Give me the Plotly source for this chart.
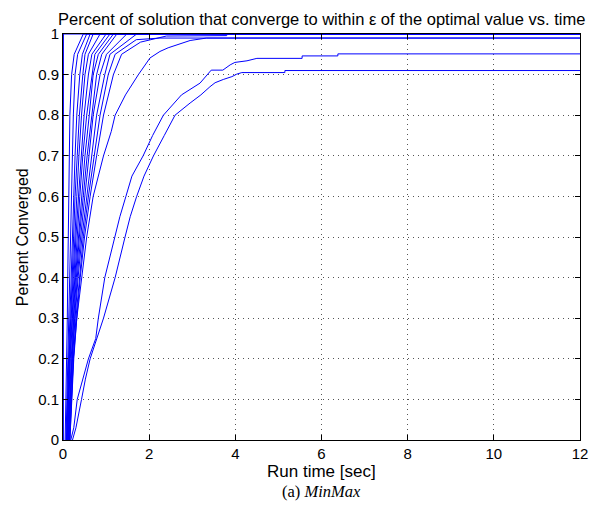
import plotly.graph_objects as go

# Percent levels at which the fast curves' times were read
p_levels = [0.0, 0.1, 0.2, 0.3, 0.4, 0.5, 0.6, 0.7, 0.8, 0.9, 0.95, 1.0]

# Run time [sec] at which each fast solution curve reaches p_levels
fast_times = [
    [0.01, 0.01, 0.01, 0.01, 0.01, 0.01, 0.01, 0.01, 0.01, 0.01, 0.01, 0.01],
    [0.05, 0.07, 0.09, 0.10, 0.11, 0.12, 0.13, 0.14, 0.16, 0.20, 0.26, 0.47],
    [0.07, 0.09, 0.11, 0.13, 0.15, 0.17, 0.20, 0.22, 0.24, 0.28, 0.34, 0.55],
    [0.08, 0.10, 0.13, 0.16, 0.19, 0.22, 0.24, 0.28, 0.32, 0.39, 0.45, 0.63],
    [0.09, 0.11, 0.14, 0.18, 0.21, 0.25, 0.28, 0.33, 0.38, 0.46, 0.51, 0.70],
    [0.10, 0.12, 0.15, 0.19, 0.23, 0.27, 0.32, 0.37, 0.43, 0.51, 0.59, 0.86],
    [0.10, 0.13, 0.16, 0.21, 0.25, 0.30, 0.36, 0.42, 0.49, 0.59, 0.67, 1.00],
    [0.11, 0.14, 0.17, 0.22, 0.27, 0.33, 0.39, 0.46, 0.55, 0.67, 0.74, 1.09],
    [0.12, 0.15, 0.19, 0.24, 0.29, 0.36, 0.43, 0.51, 0.61, 0.70, 0.82, 1.17],
    [0.12, 0.16, 0.20, 0.25, 0.31, 0.38, 0.47, 0.56, 0.67, 0.78, 0.90, 1.25],
    [0.13, 0.17, 0.21, 0.27, 0.33, 0.41, 0.51, 0.60, 0.70, 0.86, 1.01, 1.48],
    [0.14, 0.18, 0.22, 0.28, 0.35, 0.44, 0.55, 0.66, 0.78, 0.97, 1.09, 1.71],
]

# Curves with individual (time, percent) readings
curve_f12_t = [0.15, 0.19, 0.24, 0.30, 0.38, 0.47, 0.59, 0.72, 0.86, 1.05, 1.21, 1.70, 2.25, 12.0]
curve_f12_p = [0.00, 0.10, 0.20, 0.30, 0.40, 0.50, 0.60, 0.70, 0.80, 0.90, 0.95, 0.986, 0.99, 0.99]

curve_f13_t = [0.16, 0.20, 0.25, 0.32, 0.40, 0.50, 0.63, 0.78, 0.94, 1.17, 1.36, 1.80, 2.40, 3.80, 3.80, 12.0]
curve_f13_p = [0.00, 0.10, 0.20, 0.30, 0.40, 0.50, 0.60, 0.70, 0.80, 0.90, 0.95, 0.98, 0.995, 0.996, 1.0, 1.0]

curve_c_t = [0.16, 0.20, 0.24, 0.32, 0.43, 0.55, 0.70, 0.94, 1.12, 1.21, 1.45, 1.75, 2.02, 2.25, 2.44, 2.75, 2.95, 3.33, 12.0]
curve_c_p = [0.00, 0.10, 0.20, 0.30, 0.40, 0.50, 0.60, 0.70, 0.76, 0.80, 0.85, 0.90, 0.941, 0.957, 0.966, 0.978, 0.984, 0.99, 0.99]

curve_a_t = [0.18, 0.25, 0.33, 0.46, 0.59, 0.76, 0.82, 0.97, 1.21, 1.32, 1.46, 1.60, 1.86, 2.08, 2.33, 2.75, 3.18, 3.44,
             3.71, 3.88, 3.99, 4.27, 4.50, 5.55, 5.55, 6.38, 6.38, 12.0]
curve_a_p = [0.00, 0.03, 0.10, 0.15, 0.20, 0.25, 0.30, 0.40, 0.50, 0.55, 0.60, 0.65, 0.70, 0.75, 0.80, 0.85, 0.879, 0.911,
             0.911, 0.924, 0.930, 0.934, 0.940, 0.940, 0.946, 0.946, 0.951, 0.951]

curve_b_t = [0.22, 0.30, 0.43, 0.52, 0.63, 0.78, 0.94, 1.21, 1.32, 1.44, 1.56, 1.71, 1.88, 2.10, 2.35, 2.60, 2.95, 3.20,
             3.41, 3.53, 3.72, 3.92, 4.03, 4.15, 5.15, 5.15, 12.0]
curve_b_p = [0.00, 0.03, 0.10, 0.15, 0.20, 0.25, 0.30, 0.40, 0.45, 0.50, 0.55, 0.60, 0.65, 0.70, 0.75, 0.80, 0.83, 0.85,
             0.870, 0.880, 0.888, 0.895, 0.901, 0.905, 0.905, 0.910, 0.910]

x_ticks = [0, 2, 4, 6, 8, 10, 12]
y_ticks = [0, 0.1, 0.2, 0.3, 0.4, 0.5, 0.6, 0.7, 0.8, 0.9, 1]

BLUE = "#0000ff"
line = dict(color=BLUE, width=1)
SANS = "Liberation Sans, Arial, sans-serif"

fig = go.Figure()
for ts in fast_times:
    fig.add_trace(go.Scatter(x=ts + [12.0], y=p_levels + [p_levels[-1]], mode="lines", line=line,
                             showlegend=False, hoverinfo="skip"))
for xs, ys in [(curve_f12_t, curve_f12_p), (curve_f13_t, curve_f13_p), (curve_c_t, curve_c_p),
               (curve_a_t, curve_a_p), (curve_b_t, curve_b_p)]:
    fig.add_trace(go.Scatter(x=xs, y=ys, mode="lines", line=line, showlegend=False, hoverinfo="skip"))

axis_common = dict(
    showline=True, linecolor="black", linewidth=1, mirror="allticks",
    ticks="inside", ticklen=5, tickcolor="black",
    showgrid=True, gridcolor="#555555", gridwidth=1, griddash="1px,4px",
    zeroline=False, automargin=False,
    tickfont=dict(family=SANS, size=15, color="black"),
)

fig.update_xaxes(range=[0, 12], tickvals=x_ticks, ticklabelstandoff=0, **axis_common)
fig.update_yaxes(range=[0, 1], tickvals=y_ticks, **axis_common)

# The page body adds an 8px offset, so the figure is 8px smaller on each side
fig.update_layout(
    width=589, height=501,
    margin=dict(l=55, r=17, t=26, b=69, autoexpand=False),
    paper_bgcolor="white", plot_bgcolor="white",
    font=dict(family=SANS, color="black"),
    annotations=[
        dict(text="Percent of solution that converge to within \u03b5 of the optimal value vs. time",
             xref="paper", yref="paper", x=0.5, y=1.038, showarrow=False,
             xanchor="center", yanchor="middle",
             font=dict(family=SANS, size=16.5, color="black")),
        dict(text="Run time [sec]", xref="paper", yref="paper", x=0.5, y=-0.077, showarrow=False,
             xanchor="center", yanchor="middle",
             font=dict(family=SANS, size=17, color="black")),
        dict(text="(a) <i>MinMax</i>", xref="paper", yref="paper", x=0.5, y=-0.128, showarrow=False,
             xanchor="center", yanchor="middle",
             font=dict(family="Liberation Serif, Times New Roman, serif", size=16.5, color="black")),
        dict(text="Percent Converged", xref="paper", yref="paper", x=-0.079, y=0.5, showarrow=False,
             xanchor="center", yanchor="middle", textangle=-90,
             font=dict(family=SANS, size=16, color="black")),
    ],
)

fig.write_html("out.html")
